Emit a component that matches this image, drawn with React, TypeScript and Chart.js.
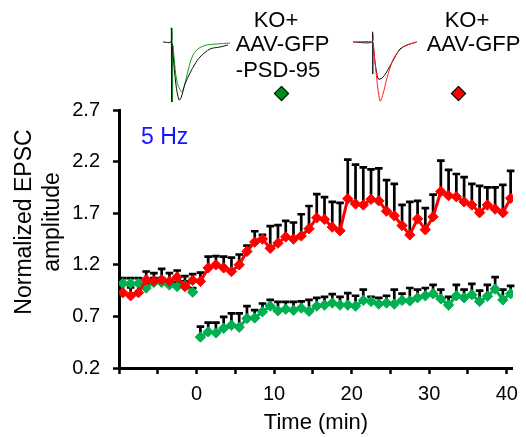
import React, { useEffect, useRef } from 'react';
import { Chart, registerables } from 'chart.js';
Chart.register(...registerables);

const FONT = '"Liberation Sans", Arial, sans-serif';

// ---- time points (min) ----
const timeBaseline = [-9.5, -8.5, -7.5, -6.5, -5.5, -4.5, -3.5, -2.5, -1.5, -0.5];
const timePost = [0.5, 1.5, 2.5, 3.5, 4.5, 5.5, 6.5, 7.5, 8.5, 9.5, 10.5, 11.5, 12.5, 13.5, 14.5, 15.5, 16.5, 17.5, 18.5, 19.5, 20.5, 21.5, 22.5, 23.5, 24.5, 25.5, 26.5, 27.5, 28.5, 29.5, 30.5, 31.5, 32.5, 33.5, 34.5, 35.5, 36.5, 37.5, 38.5, 39.5, 40.5];

// ---- KO + AAV-GFP (red) ----
const redBaseline = [0.93, 0.9, 0.93, 1.055, 1.04, 1.055, 1.04, 1.08, 0.99, 1.05];
const redBaselineErr = [0.08, 0.08, 0.08, 0.08, 0.08, 0.105, 0.08, 0.065, 0.1, 0.06];
const redPost = [1.04, 1.17, 1.2, 1.17, 1.135, 1.2, 1.33, 1.42, 1.45, 1.36, 1.41, 1.47, 1.45, 1.48, 1.55, 1.655, 1.64, 1.565, 1.53, 1.84, 1.79, 1.78, 1.835, 1.82, 1.72, 1.675, 1.58, 1.49, 1.645, 1.54, 1.665, 1.91, 1.87, 1.86, 1.81, 1.78, 1.705, 1.78, 1.74, 1.705, 1.845];
const redPostErr = [0.085, 0.11, 0.085, 0.11, 0.135, 0.1, 0.055, 0.105, 0.04, 0.215, 0.175, 0.155, 0.16, 0.21, 0.22, 0.23, 0.215, 0.245, 0.27, 0.38, 0.38, 0.365, 0.29, 0.315, 0.3, 0.31, 0.2, 0.32, 0.175, 0.21, 0.215, 0.3, 0.25, 0.22, 0.24, 0.205, 0.26, 0.17, 0.21, 0.27, 0.265];

// ---- KO + AAV-GFP-PSD-95 (green) ----
const greenBaseline = [1.02, 1.02, 1.02, 0.975, 1.03, 1.03, 1.005, 0.99, 1.0, 0.935];
const greenBaselineErr = [0.05, 0.05, 0.05, 0.04, 0.04, 0.04, 0.04, 0.04, 0.04, 0.04];
const greenPost = [0.5, 0.55, 0.54, 0.585, 0.615, 0.595, 0.68, 0.685, 0.745, 0.8, 0.755, 0.77, 0.76, 0.78, 0.75, 0.8, 0.81, 0.83, 0.81, 0.81, 0.8, 0.855, 0.845, 0.82, 0.83, 0.82, 0.855, 0.85, 0.88, 0.9, 0.92, 0.87, 0.81, 0.9, 0.88, 0.91, 0.845, 0.895, 0.965, 0.86, 0.92];
const greenPostErr = [0.1, 0.09, 0.1, 0.11, 0.115, 0.135, 0.12, 0.075, 0.08, 0.06, 0.085, 0.07, 0.08, 0.065, 0.11, 0.08, 0.08, 0.085, 0.08, 0.115, 0.1, 0.105, 0.045, 0.06, 0.07, 0.14, 0.065, 0.125, 0.08, 0.075, 0.085, 0.09, 0.08, 0.105, 0.08, 0.105, 0.105, 0.11, 0.115, 0.1, 0.075];

// ---- axes ----
const yTicks = [0.2, 0.7, 1.2, 1.7, 2.2, 2.7];
const xTicks = [-10, -5, 0, 5, 10, 15, 20, 25, 30, 35, 40];
const xTickLabels = [0, 10, 20, 30, 40];

// ---- example EPSC traces (inset) ----
const trace1BlackT = [1, 9, 9.3, 9.6, 10, 11, 14, 17, 19, 23, 28, 33, 38, 48, 58, 66];
const trace1BlackV = [0, 0, 14, -60, -2, -13, -43, -58, -56, -42, -31, -22, -15, -7, -5, -3];
const trace1GreenT = [10.2, 10.5, 11, 12, 15, 19.7, 22, 25, 28, 31, 34.7, 39, 44.7, 55, 68];
const trace1GreenV = [14, -60, -4, -15, -40, -50, -45, -33, -21, -13, -8, -5, -3, -2, -1];
const trace2BlackT = [1, 20, 20.5, 20.8, 21.2, 23, 26.3, 30, 34, 38, 43, 48, 55, 64.7];
const trace2BlackV = [0, 0, 10, -32, -2, -20, -37, -36, -31, -24, -15, -7, -3, 0];
const trace2RedT = [1, 20.8, 21.5, 24, 28, 31, 34.7, 38, 41.3, 46, 51.3, 58, 64.7];
const trace2RedV = [0, 0, -5, -30, -59, -52, -37, -26, -17, -10, -5, -2, 0];

const RED = '#ff0000';
const GREEN = '#00b050';

const zip = (xs: number[], ys: (number | null)[]) => xs.map((x, i) => ({ x, y: ys[i] }));

const errorBarPlugin = {
  id: 'errorBars',
  beforeDatasetsDraw(chart: any) {
    const ctx = chart.ctx;
    const xs = chart.scales.x;
    const ys = chart.scales.y;
    ctx.save();
    ctx.strokeStyle = '#000';
    ctx.lineWidth = 2.7;
    chart.data.datasets.forEach((ds: any) => {
      const errs = ds.errors;
      if (!errs) return;
      ds.data.forEach((pt: any, i: number) => {
        if (pt.y == null || errs[i] == null) return;
        const x = xs.getPixelForValue(pt.x);
        const y0 = ys.getPixelForValue(pt.y);
        const y1 = ys.getPixelForValue(pt.y + errs[i]);
        ctx.beginPath();
        ctx.moveTo(x, y0);
        ctx.lineTo(x, y1);
        ctx.moveTo(x - 3.8, y1);
        ctx.lineTo(x + 3.8, y1);
        ctx.stroke();
      });
    });
    ctx.restore();
  },
};

function traceConfig(sets: { t: number[]; v: number[]; color: string }[]): any {
  return {
    type: 'line',
    data: {
      datasets: sets.map((s) => ({
        data: zip(s.t, s.v),
        borderColor: s.color,
        borderWidth: 1,
        pointRadius: 0,
        tension: 0.3,
        clip: false,
      })),
    },
    options: {
      responsive: false,
      animation: false,
      events: [],
      layout: { padding: 0 },
      plugins: { legend: { display: false }, tooltip: { enabled: false } },
      scales: {
        x: { type: 'linear', display: false, min: 0, max: 70 },
        y: { display: false, min: -62, max: 16 },
      },
    },
  };
}

export default function App() {
  const mainRef = useRef<HTMLCanvasElement>(null);
  const t1Ref = useRef<HTMLCanvasElement>(null);
  const t2Ref = useRef<HTMLCanvasElement>(null);

  useEffect(() => {
    const redData = [...zip(timeBaseline, redBaseline), ...zip(timePost, redPost)];
    const redErr = [...redBaselineErr, ...redPostErr];
    const greenData = [...zip(timeBaseline, greenBaseline), { x: 0, y: null }, ...zip(timePost, greenPost)];
    const greenErr = [...greenBaselineErr, null, ...greenPostErr];

    const tickFont = { family: FONT, size: 20 };
    const main = new Chart(mainRef.current as HTMLCanvasElement, {
      type: 'line',
      data: {
        datasets: [
          {
            data: redData,
            errors: redErr,
            borderColor: RED,
            backgroundColor: RED,
            borderWidth: 3,
            pointStyle: 'rectRot',
            pointRadius: 5.2,
            pointBorderWidth: 1,
            pointBorderColor: RED,
            pointBackgroundColor: RED,
            tension: 0,
          } as any,
          {
            data: greenData,
            errors: greenErr,
            borderColor: GREEN,
            backgroundColor: GREEN,
            borderWidth: 3,
            pointStyle: 'rectRot',
            pointRadius: 5.2,
            pointBorderWidth: 1,
            pointBorderColor: GREEN,
            pointBackgroundColor: GREEN,
            tension: 0,
            spanGaps: false,
          } as any,
        ],
      },
      options: {
        responsive: false,
        animation: false,
        events: [],
        layout: { padding: { top: 110, right: 8, left: 0, bottom: 0 } },
        plugins: { legend: { display: false }, tooltip: { enabled: false } },
        scales: {
          x: {
            type: 'linear',
            min: -10,
            max: 40.8,
            afterBuildTicks: (s: any) => {
              s.ticks = xTicks.map((v) => ({ value: v }));
            },
            afterFit: (s: any) => {
              s.height = 69;
            },
            ticks: {
              autoSkip: false,
              maxRotation: 0,
              color: '#000',
              font: tickFont,
              padding: 8,
              callback: (v: any) => (xTickLabels.includes(Number(v)) ? String(v) : ''),
            },
            grid: { drawOnChartArea: false, drawTicks: true, tickLength: 6, tickWidth: 2.5, tickColor: '#000' },
            border: { display: true, color: '#000', width: 3 },
            title: {
              display: true,
              text: 'Time (min)',
              color: '#000',
              font: { family: FONT, size: 22 },
              padding: { top: 0, bottom: 1 },
            },
          },
          y: {
            min: 0.2,
            max: 2.7,
            afterBuildTicks: (s: any) => {
              s.ticks = yTicks.map((v) => ({ value: v }));
            },
            afterFit: (s: any) => {
              s.width = 119;
            },
            ticks: {
              color: '#000',
              font: tickFont,
              padding: 13,
              callback: (v: any) => Number(v).toFixed(1),
            },
            grid: { drawOnChartArea: false, drawTicks: true, tickLength: 6, tickWidth: 2.5, tickColor: '#000' },
            border: { display: true, color: '#000', width: 3 },
          },
        },
      } as any,
      plugins: [errorBarPlugin],
    });

    const t1 = new Chart(
      t1Ref.current as HTMLCanvasElement,
      traceConfig([
        { t: trace1BlackT, v: trace1BlackV, color: '#111' },
        { t: trace1GreenT, v: trace1GreenV, color: '#1a9a1a' },
      ])
    );
    const t2 = new Chart(
      t2Ref.current as HTMLCanvasElement,
      traceConfig([
        { t: trace2RedT, v: trace2RedV, color: '#ff2020' },
        { t: trace2BlackT, v: trace2BlackV, color: '#111' },
      ])
    );
    return () => {
      main.destroy();
      t1.destroy();
      t2.destroy();
    };
  }, []);

  const txt: React.CSSProperties = {
    position: 'absolute',
    fontFamily: FONT,
    fontSize: 22,
    lineHeight: '22px',
    color: '#000',
    whiteSpace: 'nowrap',
    transform: 'translateX(-50%)',
  };
  const diamond = (cx: number, cy: number, fill: string): React.CSSProperties => ({
    position: 'absolute',
    left: cx - 6,
    top: cy - 6,
    width: 9,
    height: 9,
    background: fill,
    border: '1.5px solid #000',
    transform: 'rotate(45deg)',
  });

  return (
    <div style={{ position: 'absolute', left: 0, top: 0, width: 526, height: 437, background: '#fff', overflow: 'hidden' }}>
      <canvas ref={mainRef} width={526} height={437} style={{ position: 'absolute', left: 0, top: 0, width: 526, height: 437 }} />
      <canvas ref={t1Ref} width={70} height={78} style={{ position: 'absolute', left: 162, top: 26, width: 70, height: 78 }} />
      <canvas ref={t2Ref} width={70} height={78} style={{ position: 'absolute', left: 352, top: 26, width: 70, height: 78 }} />

      <div style={{ ...txt, left: 276, top: 9 }}>KO+</div>
      <div style={{ ...txt, left: 282.5, top: 33 }}>AAV-GFP</div>
      <div style={{ ...txt, left: 278, top: 59 }}>-PSD-95</div>
      <div style={diamond(282, 93.5, '#008a1e')} />

      <div style={{ ...txt, left: 467, top: 9 }}>KO+</div>
      <div style={{ ...txt, left: 473.5, top: 33 }}>AAV-GFP</div>
      <div style={diamond(458.5, 94, '#ff0000')} />

      <div style={{ position: 'absolute', left: 141, top: 125, fontFamily: FONT, fontSize: 23, lineHeight: '23px', color: '#1414ff', whiteSpace: 'nowrap' }}>5 Hz</div>

      <div
        style={{
          position: 'absolute',
          left: 36.5 - 130,
          top: 222 - 28,
          width: 260,
          height: 56,
          fontFamily: FONT,
          fontSize: 23,
          lineHeight: '28px',
          textAlign: 'center',
          color: '#000',
          transform: 'rotate(-90deg)',
          whiteSpace: 'nowrap',
        }}
      >
        Normalized EPSC
        <br />
        amplitude
      </div>
    </div>
  );
}
